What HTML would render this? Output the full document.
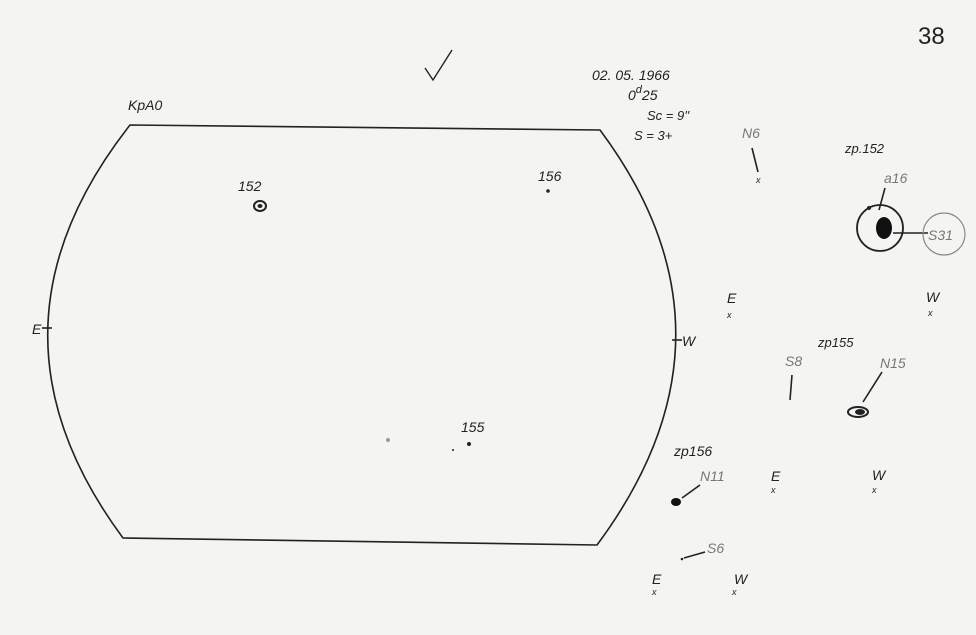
<!DOCTYPE html>
<html><head><meta charset="utf-8"><style>
html,body{margin:0;padding:0;background:#f4f4f2;}
svg{display:block}
text{font-family:"Liberation Sans",sans-serif;font-style:italic;fill:#222}
.g{fill:#777}
</style></head><body>
<svg width="976" height="635" viewBox="0 0 976 635" xmlns="http://www.w3.org/2000/svg">
<rect width="976" height="635" fill="#f4f4f2"/>
<g fill="none" stroke="#222" stroke-width="1.6">
<path d="M130,125 L600,130 Q753,335 597,545 L123,538 Q-31,330 130,125 Z"/>
<line x1="42" y1="328" x2="52" y2="328"/>
<line x1="672" y1="340" x2="682" y2="340"/>
<path d="M425,68 L433,80 L452,50" stroke-width="1.4"/>
<line x1="752" y1="148" x2="758" y2="172"/>
<line x1="885" y1="188" x2="879" y2="210"/>
<circle cx="880" cy="228" r="23" stroke-width="1.8"/>
<line x1="893" y1="233" x2="928" y2="233"/>
<circle cx="944" cy="234" r="21" stroke="#888" stroke-width="1.2"/>
<line x1="792" y1="375" x2="790" y2="400"/>
<line x1="882" y1="372" x2="863" y2="402"/>
<line x1="700" y1="485" x2="682" y2="498"/>
<line x1="705" y1="552" x2="684" y2="558"/>
</g>
<ellipse cx="260" cy="206" rx="6" ry="5" fill="none" stroke="#222" stroke-width="2"/>
<ellipse cx="260" cy="206" rx="2.5" ry="2" fill="#222"/>
<circle cx="548" cy="191" r="1.8" fill="#222"/>
<circle cx="469" cy="444" r="2" fill="#222"/>
<circle cx="453" cy="450" r="1" fill="#222"/>
<circle cx="388" cy="440" r="2" fill="#999"/>
<ellipse cx="884" cy="228" rx="8" ry="11" fill="#111"/>
<circle cx="869" cy="208" r="2" fill="#222"/>
<ellipse cx="858" cy="412" rx="10" ry="5" fill="none" stroke="#222" stroke-width="2"/>
<ellipse cx="860" cy="412" rx="5" ry="3" fill="#222"/>
<ellipse cx="676" cy="502" rx="5" ry="4" fill="#111"/>
<circle cx="682" cy="559" r="1.3" fill="#222"/>
<g font-size="9" fill="#222">
<text x="756" y="183">x</text><text x="727" y="318">x</text><text x="928" y="316">x</text>
<text x="771" y="493">x</text><text x="872" y="493">x</text>
<text x="652" y="595">x</text><text x="732" y="595">x</text>
</g>
<text x="918" y="44" font-size="24" style="font-style:normal">38</text>
<text x="592" y="80" font-size="14">02. 05. 1966</text>
<text x="628" y="100" font-size="14">0<tspan dy="-7" font-size="11">d</tspan><tspan dy="7">25</tspan></text>
<text x="647" y="120" font-size="13">Sc = 9''</text>
<text x="634" y="140" font-size="13">S = 3+</text>
<text x="128" y="110" font-size="14">KpA0</text>
<text x="238" y="191" font-size="14">152</text>
<text x="538" y="181" font-size="14">156</text>
<text x="461" y="432" font-size="14">155</text>
<text x="32" y="334" font-size="14">E</text>
<text x="682" y="346" font-size="14">W</text>
<text x="742" y="138" font-size="14" class="g">N6</text>
<text x="845" y="153" font-size="13">zp.152</text>
<text x="884" y="183" font-size="14" class="g">a16</text>
<text x="928" y="240" font-size="14" class="g">S31</text>
<text x="727" y="303" font-size="14">E</text>
<text x="926" y="302" font-size="14">W</text>
<text x="818" y="347" font-size="13">zp155</text>
<text x="785" y="366" font-size="14" class="g">S8</text>
<text x="880" y="368" font-size="14" class="g">N15</text>
<text x="674" y="456" font-size="14">zp156</text>
<text x="700" y="481" font-size="14" class="g">N11</text>
<text x="771" y="481" font-size="14">E</text>
<text x="872" y="480" font-size="14">W</text>
<text x="707" y="553" font-size="14" class="g">S6</text>
<text x="652" y="584" font-size="14">E</text>
<text x="734" y="584" font-size="14">W</text>
</svg>
</body></html>
